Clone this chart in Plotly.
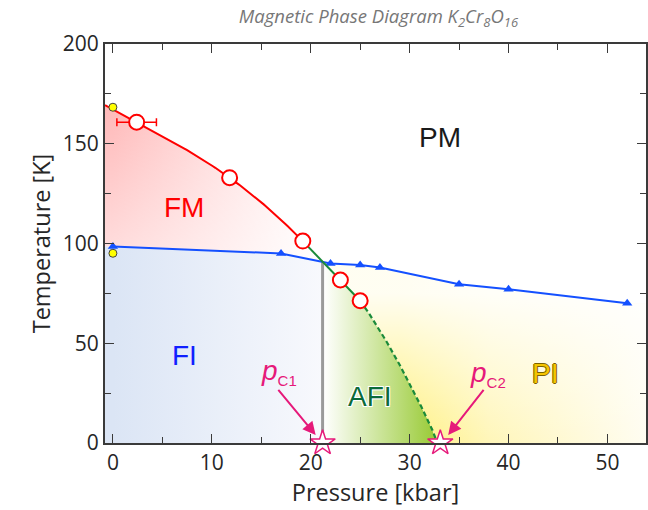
import numpy as np
import plotly.graph_objects as go

# ---------------- data ----------------
# FM transition temperatures under pressure (red open circles)
fm_p = [2.4, 11.8, 19.2, 23.0, 25.0]
fm_T = [160.8, 133.0, 101.2, 81.7, 71.3]
fm_p_err = [2.0, 0, 0, 0, 0]
# ambient-pressure values (yellow dots)
amb_p = [0.0, 0.0]
amb_T = [168.3, 95.1]
# metal-insulator transition (blue triangles)
mi_p = [0, 17, 22, 25, 27, 35, 40, 52]
mi_T = [98.5, 95.0, 90.0, 89.2, 88.0, 79.6, 77.1, 70.1]
# extrapolated AFI boundary (dashed green)
ext_p = [26.4, 28.0, 29.7, 31.2, 32.3, 32.8]
ext_T = [61.0, 48.0, 32.5, 18.0, 6.5, 0.0]
# critical pressures (stars)
pc_p = [21.2, 33.1]
pc_T = [0.0, 0.0]
pc_names = ["C1", "C2"]
pc_label_p = [16.8, 37.9]
pc_label_T = [35.6, 34.6]
pc_arrow_tail_p = [16.6, 37.6]
pc_arrow_tail_T = [27.4, 27.4]
pc_arrow_head_p = [20.5, 33.9]
pc_arrow_head_T = [4.0, 4.0]
# phase labels
phase_names = ["FM", "FI", "AFI", "PI", "PM"]
phase_p = [7.2, 7.2, 26.0, 43.7, 33.1]
phase_T = [118, 44, 23.2, 35, 153]

x_range = [-0.8, 53.9]
y_range = [0, 200]

RED = "#ff0000"
BLUE = "#1450ff"
GREEN = "#1a8a3a"
MAG = "#e6197a"


def natural_spline_segments(xs, ys, n=40):
    """natural cubic spline through the points; one dense array pair per interval"""
    x = np.asarray(xs, float)
    y = np.asarray(ys, float)
    N = len(x)
    h = np.diff(x)
    d = np.diff(y) / h
    A = np.zeros((N, N))
    rhs = np.zeros(N)
    A[0, 0] = 1
    A[-1, -1] = 1
    for i in range(1, N - 1):
        A[i, i - 1] = h[i - 1]
        A[i, i] = 2 * (h[i - 1] + h[i])
        A[i, i + 1] = h[i]
        rhs[i] = 6 * (d[i] - d[i - 1])
    M = np.linalg.solve(A, rhs)
    segs = []
    for i in range(N - 1):
        xx = np.linspace(x[i], x[i + 1], n)
        hi = h[i]
        yy = (M[i] * (x[i + 1] - xx) ** 3 / (6 * hi) + M[i + 1] * (xx - x[i]) ** 3 / (6 * hi)
              + (y[i] / hi - M[i] * hi / 6) * (x[i + 1] - xx)
              + (y[i + 1] / hi - M[i + 1] * hi / 6) * (xx - x[i]))
        segs.append((xx, yy))
    slope0 = d[0] - h[0] * (2 * M[0] + M[1]) / 6
    return segs, slope0


def join(segs):
    return (np.concatenate([s[0] for s in segs]), np.concatenate([s[1] for s in segs]))


def blue(x):
    return np.interp(x, mi_p, mi_T)


def blue_pts(a, b):
    if a < b:
        xs = [a] + [p for p in mi_p if a < p < b] + [b]
    else:
        xs = [a] + sorted([p for p in mi_p if b < p < a], reverse=True) + [b]
    return list(xs), list(blue(np.array(xs)))


xmin, xmax = x_range
pc1 = pc_p[0]

# FM / AFI boundary: smooth guide curve through the circles and the extrapolation
bx = fm_p + ext_p
by = fm_T + ext_T
segs, slope0 = natural_spline_segments(bx, by)
y_left = by[0] + slope0 * (xmin - bx[0])
segs = [(np.array([xmin, bx[0]]), np.array([y_left, by[0]]))] + segs
i_split = 1 + fm_p.index(19.2)          # red up to the 19.2 kbar point
red_x, red_y = join(segs[:i_split])
grn_x, grn_y = join(segs[i_split:len(fm_p)])
dsh_x, dsh_y = join(segs[len(fm_p):])
sx, sy = join(segs)

# crossing with MI line
diff = sy - blue(sx)
k = np.where(diff < 0)[0][0]
xc = sx[k - 1] + (sx[k] - sx[k - 1]) * diff[k - 1] / (diff[k - 1] - diff[k])
yc = float(blue(xc))

fig = go.Figure()

# ---- FM region ----
m = sx < xc
bpx, bpy = blue_pts(xc, xmin)
fm_x = list(sx[m]) + [xc] + bpx[1:]
fm_y = list(sy[m]) + [yc] + bpy[1:]
fig.add_trace(go.Scatter(x=fm_x, y=fm_y, fill="toself", mode="none", hoverinfo="skip",
                         fillgradient=dict(type="horizontal", start=0, stop=21,
                                           colorscale=[[0, "#ffbaba"], [1, "#ffffff"]])))
fig.add_trace(go.Scatter(x=fm_x, y=fm_y, fill="toself", mode="none", hoverinfo="skip",
                         fillgradient=dict(type="vertical", start=98, stop=168,
                                           colorscale=[[0, "rgba(255,255,255,0.5)"],
                                                       [1, "rgba(255,255,255,0)"]])))

# ---- FI region ----
bpx, bpy = blue_pts(xmin, pc1)
fi_x = [xmin] + bpx + [pc1]
fi_y = [0] + bpy + [0]
fig.add_trace(go.Scatter(x=fi_x, y=fi_y, fill="toself", mode="none", hoverinfo="skip",
                         fillgradient=dict(type="horizontal", start=0, stop=pc1,
                                           colorscale=[[0, "#dbe5f5"], [1, "#f8f9fd"]])))

# ---- AFI region ----
m = sx > xc
afi_x = [pc1, pc1] + ([xc] if xc > pc1 else []) + list(sx[m])
afi_y = [0, float(blue(pc1))] + ([yc] if xc > pc1 else []) + list(sy[m])
fig.add_trace(go.Scatter(x=afi_x, y=afi_y, fill="toself", mode="none", hoverinfo="skip",
                         fillgradient=dict(type="horizontal", start=pc1, stop=32.4,
                                           colorscale=[[0, "#ffffff"], [1, "#9acb38"]])))

# ---- PI region ----
bpx, bpy = blue_pts(xmax, xc)
pi_x = [xc] + list(sx[m]) + [xmax] + bpx
pi_y = [yc] + list(sy[m]) + [0] + bpy
fig.add_trace(go.Scatter(x=pi_x, y=pi_y, fill="toself", mode="none", hoverinfo="skip",
                         fillgradient=dict(type="horizontal", start=29, stop=54,
                                           colorscale=[[0, "#fff07a"], [0.35, "#fff6b8"],
                                                       [1, "#fffdf2"]])))
fig.add_trace(go.Scatter(x=pi_x, y=pi_y, fill="toself", mode="none", hoverinfo="skip",
                         fillgradient=dict(type="vertical", start=0, stop=75,
                                           colorscale=[[0, "rgba(255,255,255,0)"],
                                                       [1, "rgba(255,255,255,0.9)"]])))

# ---- vertical FI/AFI boundary at pc1 ----
fig.add_trace(go.Scatter(x=[pc1, pc1], y=[0, float(blue(pc1))], mode="lines",
                         line=dict(color="#9a9a9a", width=3), hoverinfo="skip"))

# ---- MI line ----
fig.add_trace(go.Scatter(x=mi_p, y=mi_T, mode="lines+markers",
                         line=dict(color=BLUE, width=2),
                         marker=dict(symbol="triangle-up", size=9, color=BLUE)))

# ---- FM boundary (red), AFI boundary (green solid / dashed) ----
fig.add_trace(go.Scatter(x=red_x, y=red_y, mode="lines", line=dict(color=RED, width=2)))
fig.add_trace(go.Scatter(x=grn_x, y=grn_y, mode="lines", line=dict(color=GREEN, width=2)))
fig.add_trace(go.Scatter(x=dsh_x, y=dsh_y, mode="lines",
                         line=dict(color=GREEN, width=2.2, dash="5px,3px")))

# ---- markers ----
fig.add_trace(go.Scatter(x=fm_p, y=fm_T, mode="markers",
                         error_x=dict(type="data", array=fm_p_err, color=RED,
                                      thickness=1.5, width=4),
                         marker=dict(symbol="circle", size=15, color="white",
                                     line=dict(color=RED, width=2))))
fig.add_trace(go.Scatter(x=amb_p, y=amb_T, mode="markers", cliponaxis=False,
                         marker=dict(symbol="circle", size=8, color="#ffff00",
                                     line=dict(color="#444", width=1))))
fig.add_trace(go.Scatter(x=pc_p, y=pc_T, mode="markers", cliponaxis=False,
                         marker=dict(symbol="star", size=19, color="white",
                                     line=dict(color=MAG, width=1.5))))

# ---- annotations ----
ann = []
styles = {
    "FM": dict(color=RED),
    "FI": dict(color="#1020ff"),
    "AFI": dict(color="#0b6b3a",
                shadow="1px 1px 0 #fff, -1px -1px 0 #fff, 1px -1px 0 #fff, -1px 1px 0 #fff"),
    "PI": dict(color="#f5c400",
               shadow="1px 0 0 #7a6200, -1px 0 0 #7a6200, 0 1px 0 #7a6200, 0 -1px 0 #7a6200"),
    "PM": dict(color="#1a1a1a"),
}
for name, p, T in zip(phase_names, phase_p, phase_T):
    ann.append(dict(x=p, y=T, text=name, showarrow=False,
                    font=dict(family="Liberation Sans, Arial", size=28, **styles[name])))
for name, lp, lT, tp, tT, hp, hT in zip(pc_names, pc_label_p, pc_label_T, pc_arrow_tail_p,
                                        pc_arrow_tail_T, pc_arrow_head_p, pc_arrow_head_T):
    ann.append(dict(x=lp, y=lT, showarrow=False,
                    text="<i>p</i><sub><span style='font-size:15px'>%s</span></sub>" % name,
                    font=dict(family="Liberation Sans, Arial", size=28, color=MAG)))
    ann.append(dict(x=hp, y=hT, ax=tp, ay=tT, axref="x", ayref="y", text="",
                    showarrow=True, arrowhead=2, arrowsize=1.3, arrowwidth=2,
                    arrowcolor=MAG))

fig.update_layout(
    width=648, height=510,
    margin=dict(l=105, r=0, t=44, b=67),
    paper_bgcolor="white", plot_bgcolor="white",
    showlegend=False,
    annotations=ann,
    title=dict(text="Magnetic Phase Diagram K<sub>2</sub>Cr<sub>8</sub>O<sub>16</sub>",
               x=0.584, xanchor="center", y=0.967, yanchor="middle", yref="container",
               font=dict(family="Open Sans", size=18.5, color="#777777", style="italic")),
)
axis_common = dict(showline=True, linecolor="#3a3a3a", linewidth=2, mirror="allticks",
                   ticks="inside", ticklen=9, tickwidth=1.3, tickcolor="#3a3a3a",
                   showgrid=False, zeroline=False,
                   tickfont=dict(family="Open Sans", size=21, color="#262626"),
                   title_font=dict(family="Open Sans", size=23.5, color="#262626"))
fig.update_xaxes(range=x_range, dtick=10, tick0=0,
                 minor=dict(ticks="inside", ticklen=6, dtick=5, tick0=0, tickcolor="#3a3a3a"),
                 title=dict(text="Pressure [kbar]", standoff=2), **axis_common)
fig.update_yaxes(range=y_range, dtick=50, tick0=0,
                 minor=dict(ticks="inside", ticklen=6, dtick=25, tick0=0, tickcolor="#3a3a3a"),
                 title=dict(text="Temperature [K]", standoff=6), **axis_common)

fig.write_html("out.html")
